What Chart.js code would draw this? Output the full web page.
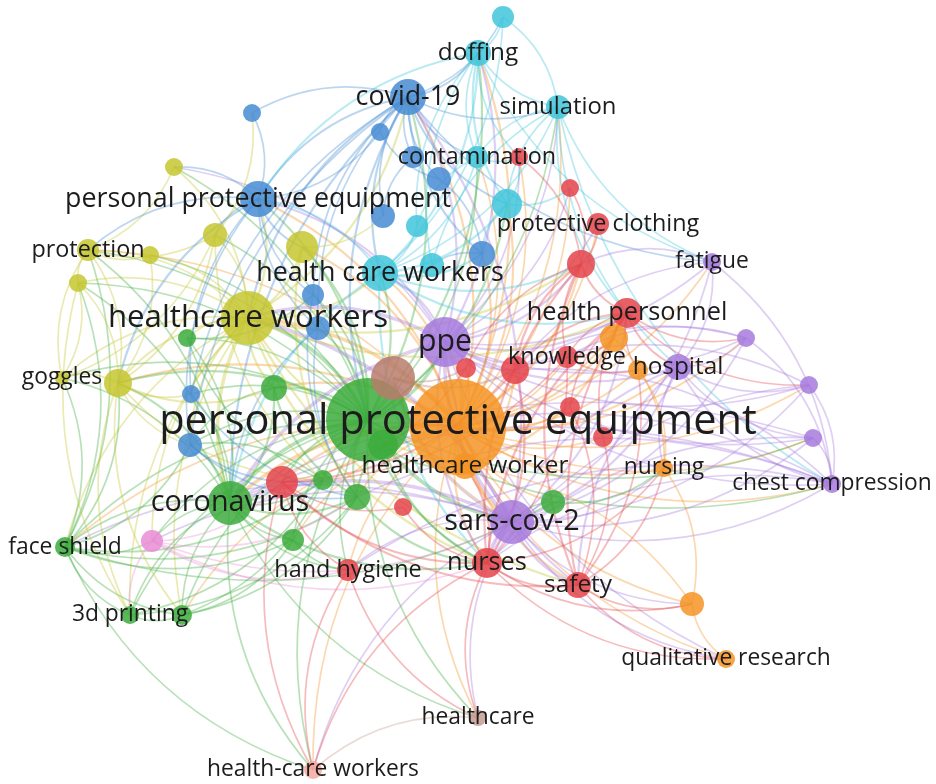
<!DOCTYPE html>
<html lang="en">
<head>
  <meta charset="UTF-8">
  <title>Keyword co-occurrence map</title>
  <script src="https://cdn.jsdelivr.net/npm/chart.js"></script>
  <style>
    * { box-sizing: border-box; }
    body { margin: 0; background: #fff; }
    #wrap { width: 936px; height: 784px; position: relative; }
  </style>
</head>
<body>
  <div id="wrap"><canvas id="netChart"></canvas></div>

  <script>
    // --- data: keyword nodes (map coordinates, bubble radius, cluster) ---
    const nodeLabels = [
      'personal protective equipment', '', '', 'ppe', '', 'healthcare workers', 'health care workers',
      'personal protective equipment', 'covid-19', 'doffing', '', 'simulation', 'contamination', '',
      '', 'protective clothing', '', '', 'health personnel', '', 'knowledge', '', '', 'hospital',
      'fatigue', '', '', '', 'chest compression', 'nursing', '', '', '', 'healthcare worker',
      'sars-cov-2', '', 'nurses', 'safety', '', 'qualitative research', 'healthcare',
      'health-care workers', 'coronavirus', '', '', '', '', '', 'hand hygiene', '', 'face shield',
      '3d printing', '', '', '', '', '', '', 'goggles', 'protection', '', '', '', '', '', '', '',
      '', '', '', '', '', '', '', ''
    ];
    const mapX = [
      458, 368, 383, 445, 393, 248, 380, 258, 408, 478, 503, 558, 477, 519, 570, 598, 507, 581,
      627, 614, 567, 515, 638, 678, 712, 746, 809, 813, 832, 664, 466, 570, 603, 465, 512, 553,
      487, 578, 692, 726, 478, 313, 230, 282, 323, 357, 403, 293, 348, 152, 65, 130, 182, 190,
      191, 274, 187, 118, 62, 88, 150, 78, 174, 215, 302, 252, 380, 413, 439, 383, 417, 432,
      482, 313, 318
    ];
    const mapY = [
      427, 420, 445, 342, 378, 318, 273, 199, 97, 53, 17, 107, 157, 157, 188, 224, 204, 264,
      313, 338, 357, 370, 370, 367, 262, 338, 385, 438, 484, 468, 368, 407, 437, 466, 522, 502,
      563, 585, 604, 659, 718, 770, 503, 482, 480, 497, 507, 540, 570, 541, 547, 615, 615, 445,
      394, 388, 338, 383, 378, 250, 255, 283, 167, 235, 247, 113, 132, 157, 179, 216, 226, 265,
      254, 295, 328
    ];
    const nodeRadius = [
      48, 42, 15, 25, 22, 27, 18, 18, 18, 13, 11, 12, 11, 9, 9, 11, 15, 14,
      15, 14, 11, 14, 10, 13, 9, 9, 9, 9, 9, 9, 10, 10, 10, 13, 22, 12,
      15, 13, 12, 9, 8, 9, 22, 16, 10, 13, 9, 11, 11, 11, 10, 9, 10, 12,
      9, 13, 9, 14, 7, 11, 9, 9, 9, 12, 16, 9, 9, 11, 12, 12, 11, 12,
      13, 11, 12
    ];
    const nodeCluster = [
      'orange', 'green', 'green', 'purple', 'brown', 'yellow', 'cyan', 'blue', 'blue', 'cyan',
      'cyan', 'cyan', 'cyan', 'red', 'red', 'red', 'cyan', 'red', 'red', 'orange', 'red', 'red',
      'orange', 'purple', 'purple', 'purple', 'purple', 'purple', 'purple', 'orange', 'red', 'red',
      'red', 'orange', 'purple', 'green', 'red', 'red', 'orange', 'orange', 'tan', 'salmon',
      'green', 'red', 'green', 'green', 'red', 'green', 'red', 'pink', 'green', 'green', 'green',
      'blue', 'blue', 'green', 'green', 'yellow', 'yellow', 'yellow', 'yellow', 'yellow', 'yellow',
      'yellow', 'yellow', 'blue', 'blue', 'blue', 'blue', 'blue', 'cyan', 'cyan', 'blue', 'blue',
      'blue'
    ];
    const clusterColors = {
      red: [228, 68, 74], green: [60, 172, 60], blue: [70, 140, 212], yellow: [198, 198, 48],
      purple: [166, 122, 222], cyan: [64, 198, 218], orange: [244, 148, 36], brown: [184, 124, 108],
      pink: [234, 140, 214], salmon: [246, 168, 160], tan: [196, 156, 146]
    };

    // --- data: co-occurrence links (node index pairs) ---
    const links = [
      [0,1],[0,2],[0,3],[0,4],[0,5],[0,6],[0,7],[0,8],[0,9],[0,11],[0,12],[0,15],[0,17],[0,18],
      [0,19],[0,20],[0,21],[0,22],[0,23],[0,24],[0,25],[0,26],[0,27],[0,28],[0,29],[0,30],[0,31],
      [0,32],[0,33],[0,34],[0,35],[0,36],[0,37],[0,38],[0,39],[0,40],[0,41],[0,42],[0,43],[0,45],
      [0,47],[0,48],[0,52],[0,55],[0,57],[0,64],[0,72],[0,16],[0,50],[0,59],[0,14],[0,13],
      [1,5],[1,6],[1,7],[1,8],[1,42],[1,43],[1,44],[1,45],[1,47],[1,48],[1,49],[1,50],[1,51],[1,52],
      [1,53],[1,54],[1,55],[1,56],[1,57],[1,58],[1,59],[1,63],[1,64],[1,3],[1,34],[1,36],[1,40],
      [1,41],[1,73],[1,74],[1,9],[1,12],[1,16],[1,27],[1,28],[1,11],[1,60],[1,61],[1,62],
      [3,5],[3,6],[3,7],[3,8],[3,18],[3,23],[3,24],[3,25],[3,26],[3,27],[3,28],[3,34],[3,36],
      [3,37],[3,17],[3,21],[3,20],[3,42],[3,13],[3,14],[3,15],[3,62],[3,11],[3,9],[3,39],
      [34,23],[34,24],[34,26],[34,27],[34,28],[34,36],[34,37],[34,38],[34,39],[34,40],[34,41],
      [34,42],[34,48],[34,49],[34,5],[34,8],[34,29],[34,25],[34,50],[34,18],
      [5,57],[5,58],[5,59],[5,60],[5,61],[5,62],[5,63],[5,64],[5,7],[5,8],[5,6],[5,42],[5,50],
      [5,51],[5,52],[5,53],[5,54],[5,55],[5,56],[5,49],[5,36],[5,18],[5,33],[5,37],[5,17],
      [8,65],[8,66],[8,67],[8,68],[8,69],[8,7],[8,9],[8,10],[8,11],[8,12],[8,16],[8,72],[8,6],
      [8,73],[8,74],[8,42],[8,53],[8,54],[8,24],[8,5],[8,1],
      [6,9],[6,11],[6,12],[6,16],[6,70],[6,71],[6,72],[6,7],[6,17],[6,18],[6,10],[6,42],[6,36],
      [9,10],[9,11],[9,12],[9,16],[9,70],[9,7],[9,13],[9,71],[9,24],
      [11,10],[11,16],[11,12],[11,18],[11,23],[11,24],[11,71],[11,28],
      [17,13],[17,14],[17,15],[17,18],[17,20],[17,21],[17,36],[17,37],[17,30],
      [18,20],[18,21],[18,23],[18,19],[18,22],[18,25],[18,26],[18,36],[18,37],[18,31],[18,32],
      [23,24],[23,25],[23,26],[23,27],[23,28],[23,36],[23,29],[23,37],
      [28,26],[28,27],[28,25],[28,24],[28,36],[28,42],[28,48],[28,21],[28,45],[28,2],
      [27,36],[27,42],[26,36],[26,21],[25,21],[25,20],[24,17],[24,21],
      [42,49],[42,50],[42,51],[42,52],[42,53],[42,54],[42,43],[42,44],[42,45],[42,47],[42,48],
      [42,55],[42,56],[42,57],[42,41],[42,40],[42,36],[42,58],[42,59],[42,61],
      [43,48],[43,36],[43,21],[43,46],[43,37],[43,41],[43,30],[43,20],
      [36,37],[36,38],[36,39],[36,40],[36,41],[36,21],[36,20],[36,29],[36,33],
      [37,38],[37,39],[37,29],[37,31],[37,32],[37,22],
      [38,39],[38,33],[38,29],[29,19],[29,22],
      [50,51],[50,52],[50,49],[50,57],[50,58],[50,59],[50,53],[50,61],[50,41],[50,44],[50,45],
      [50,47],[50,35],
      [49,48],[49,36],[49,51],[48,41],[48,40],[49,43],[49,45],[49,34],
      [51,52],[51,44],[51,45],[52,47],[52,45],[52,44],
      [57,58],[57,59],[57,60],[57,61],[57,63],[57,53],[57,54],[57,52],[57,51],[57,55],[57,44],
      [59,60],[59,61],[59,62],[59,63],[59,58],[58,61],[58,63],[61,51],
      [7,62],[7,63],[7,64],[7,65],[7,66],[7,53],[7,54],[7,57],[7,59],[7,73],[7,74],
      [2,45],[2,33],[2,36],[4,30],[4,21],[4,34],[33,21],[33,19],[16,13],[16,14],[16,72],
      [12,13],[12,70],[72,68],[72,71],[20,19],[20,22],[35,34],[35,29],[47,48],[40,41],
      [44,53],[45,36],[46,36],[55,53],[56,73],[64,69],[63,65],[66,68],[67,69],
      [53,45],[53,44],[54,45],[55,45],[56,44],[73,45],[74,45],[74,42],[64,45],[63,44]
    ];

    const canvas = document.getElementById('netChart');

    function rgba(name, a) {
      const c = clusterColors[name];
      return `rgba(${c[0]},${c[1]},${c[2]},${a})`;
    }

    const points = mapX.map((x, i) => ({ x: x, y: mapY[i], r: nodeRadius[i] }));

    // curved links drawn under the bubbles
    const linkPlugin = {
      id: 'links',
      beforeDatasetsDraw(chart) {
        const ctx = chart.ctx;
        const xs = chart.scales.x, ys = chart.scales.y;
        ctx.save();
        links.forEach(([s, t]) => {
          const x1 = xs.getPixelForValue(mapX[s]), y1 = ys.getPixelForValue(mapY[s]);
          const x2 = xs.getPixelForValue(mapX[t]), y2 = ys.getPixelForValue(mapY[t]);
          const mx = (x1 + x2) / 2, my = (y1 + y2) / 2;
          const dx = x2 - x1, dy = y2 - y1;
          const cx = mx - dy * 0.22, cy = my + dx * 0.22;
          const minR = Math.min(nodeRadius[s], nodeRadius[t]);
          ctx.beginPath();
          ctx.moveTo(x1, y1);
          ctx.quadraticCurveTo(cx, cy, x2, y2);
          ctx.strokeStyle = rgba(nodeCluster[s], 0.36);
          ctx.lineWidth = minR >= 20 ? 3.5 : (minR >= 13 ? 2.2 : 1.7);
          ctx.stroke();
        });
        ctx.restore();
      }
    };

    // labels centred on their nodes, larger nodes get larger text
    const labelPlugin = {
      id: 'labels',
      afterDatasetsDraw(chart) {
        const ctx = chart.ctx;
        const xs = chart.scales.x, ys = chart.scales.y;
        const order = nodeLabels.map((l, i) => i).filter(i => nodeLabels[i])
          .sort((a, b) => nodeRadius[a] - nodeRadius[b]);
        ctx.save();
        ctx.textAlign = 'center';
        ctx.textBaseline = 'middle';
        ctx.fillStyle = '#1c1c1c';
        order.forEach(i => {
          const size = Math.max(22.8, 18 + 0.49 * nodeRadius[i]);
          ctx.font = `${size}px "Open Sans"`;
          const dy = nodeRadius[i] > 40 ? -5 : 0;
          ctx.fillText(nodeLabels[i], xs.getPixelForValue(mapX[i]), ys.getPixelForValue(mapY[i]) + dy);
        });
        ctx.restore();
      }
    };

    new Chart(canvas.getContext('2d'), {
      type: 'bubble',
      data: {
        datasets: [{
          data: points,
          backgroundColor: nodeCluster.map(c => rgba(c, 0.85)),
          borderWidth: 0,
          hoverRadius: 0,
          clip: false
        }]
      },
      options: {
        responsive: true,
        maintainAspectRatio: false,
        animation: false,
        events: [],
        layout: { padding: 0, autoPadding: false },
        plugins: { legend: { display: false }, tooltip: { enabled: false } },
        scales: {
          x: { type: 'linear', min: 0, max: 936, display: false },
          y: { type: 'linear', min: 0, max: 784, reverse: true, display: false }
        }
      },
      plugins: [linkPlugin, labelPlugin]
    });
  </script>
</body>
</html>
